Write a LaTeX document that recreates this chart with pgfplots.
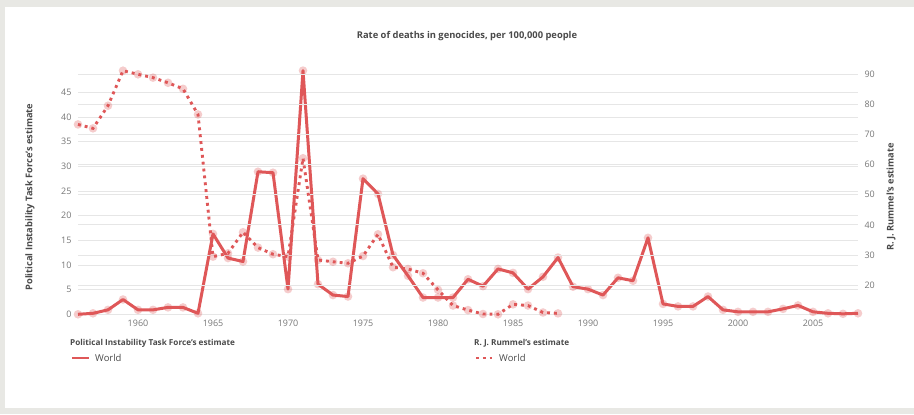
\documentclass[border=0pt]{standalone}
\usepackage{pgfplots}
\pgfplotsset{compat=1.18}
\usepackage{fontspec}
\setmainfont{Open Sans}
\definecolor{linec}{HTML}{DF5758}
\definecolor{framec}{HTML}{E8E8E4}
\definecolor{tickc}{HTML}{777777}
\definecolor{labc}{HTML}{4A4A4A}
\definecolor{gridc}{HTML}{E6E6E6}

\pgfplotsset{
  base/.style={
    at={(78bp,99.7bp)}, anchor=south west,
    scale only axis, width=780bp, height=243.6bp,
    xmin=1956, xmax=2008,
    axis line style={draw=none},
    tick style={draw=none},
    major tick length=0pt,
    ymajorgrids,
    grid style={color=gridc, line width=0.9bp},
    ticklabel style={font=\fontsize{9}{10}\selectfont, text=tickc},
    /pgf/number format/assume math mode=true,
    /pgf/number format/1000 sep={},
    clip=false,
  },
  pitf/.style={linec, line width=3bp, line join=round, mark=*, mark size=4.3bp,
    mark options={solid, draw opacity=0, line width=0pt, fill=linec, fill opacity=0.3}},
  rum/.style={linec, line width=2.9bp, dash pattern=on 2.9bp off 4bp, mark=*, mark size=4.3bp,
    mark options={solid, draw opacity=0, line width=0pt, fill=linec, fill opacity=0.3}},
}

\begin{document}
\begin{tikzpicture}[x=1bp,y=1bp]
\fill[framec] (0,0) rectangle (914,414);
\fill[white] (5,6) rectangle (914,407);
\useasboundingbox (0,0) rectangle (914,414);

\begin{axis}[base,
  ymin=0, ymax=49.38,
  ytick={0,5,...,45},
  xtick={1960,1965,...,2005},
  yticklabel style={xshift=-3bp},
  xticklabel style={yshift=-2bp},
]
\addplot[pitf] coordinates {
(1956,0) (1957,0.2) (1958,0.9) (1959,3.0) (1960,0.9) (1961,0.9) (1962,1.4) (1963,1.4) (1964,0.2)
(1965,16.3) (1966,11.4) (1967,10.7) (1968,28.9) (1969,28.7) (1970,5.1) (1971,49.4) (1972,6.1)
(1973,3.9) (1974,3.6) (1975,27.5) (1976,24.4) (1977,12.0) (1978,7.8) (1979,3.4) (1980,3.4)
(1981,3.4) (1982,7.1) (1983,5.7) (1984,9.2) (1985,8.4) (1986,5.1) (1987,7.6) (1988,11.5)
(1989,5.6) (1990,5.1) (1991,3.9) (1992,7.4) (1993,6.8) (1994,15.5) (1995,2.1) (1996,1.6)
(1997,1.6) (1998,3.6) (1999,0.9) (2000,0.5) (2001,0.5) (2002,0.5) (2003,1.1) (2004,1.8)
(2005,0.5) (2006,0.2) (2007,0.1) (2008,0.2)
};
\end{axis}

\begin{axis}[base,
  ymin=10.4, ymax=91.1,
  ytick={20,30,...,90},
  xtick=\empty,
  yticklabel pos=right,
  yticklabel style={xshift=3bp},
]
\addplot[rum] coordinates {
(1956,73.3) (1957,72.0) (1958,79.5) (1959,91.1) (1960,89.9) (1961,88.8) (1962,87.1) (1963,85.1)
(1964,76.6) (1965,29.5) (1966,30.6) (1967,37.6) (1968,32.5) (1969,30.3) (1970,29.5) (1971,62.1)
(1972,28.4) (1973,27.8) (1974,27.3) (1975,29.7) (1976,36.9) (1977,26.0) (1978,25.4) (1979,24.0)
(1980,18.5) (1981,13.3) (1982,11.8) (1983,10.5) (1984,10.4) (1985,13.7) (1986,13.3) (1987,11.0)
(1988,10.7)
};
\end{axis}

% title and axis labels
\node[font=\bfseries\fontsize{9.4}{11}\selectfont, text=labc] at (467,378) {Rate of deaths in genocides, per 100,000 people};
\node[font=\bfseries\fontsize{9.3}{11}\selectfont, text=labc, rotate=90] at (30,217) {Political Instability Task Force's estimate};
\node[font=\bfseries\fontsize{9.3}{11}\selectfont, text=labc, rotate=90] at (891,217) {R. J. Rummel's estimate};

% legend
\node[font=\bfseries\fontsize{8.2}{10}\selectfont, text=labc, anchor=west, inner sep=0] at (70,71) {Political Instability Task Force's estimate};
\draw[linec, line width=2.8bp] (72,56) -- (89,56);
\node[font=\fontsize{9.5}{11}\selectfont, text=labc, anchor=west, inner sep=0] at (95,56) {World};
\node[font=\bfseries\fontsize{8.2}{10}\selectfont, text=labc, anchor=west, inner sep=0] at (474,71) {R. J. Rummel's estimate};
\draw[linec, line width=2.8bp, dash pattern=on 2.8bp off 4bp] (476,56) -- (494,56);
\node[font=\fontsize{9.5}{11}\selectfont, text=labc, anchor=west, inner sep=0] at (499,56) {World};
\end{tikzpicture}
\end{document}
